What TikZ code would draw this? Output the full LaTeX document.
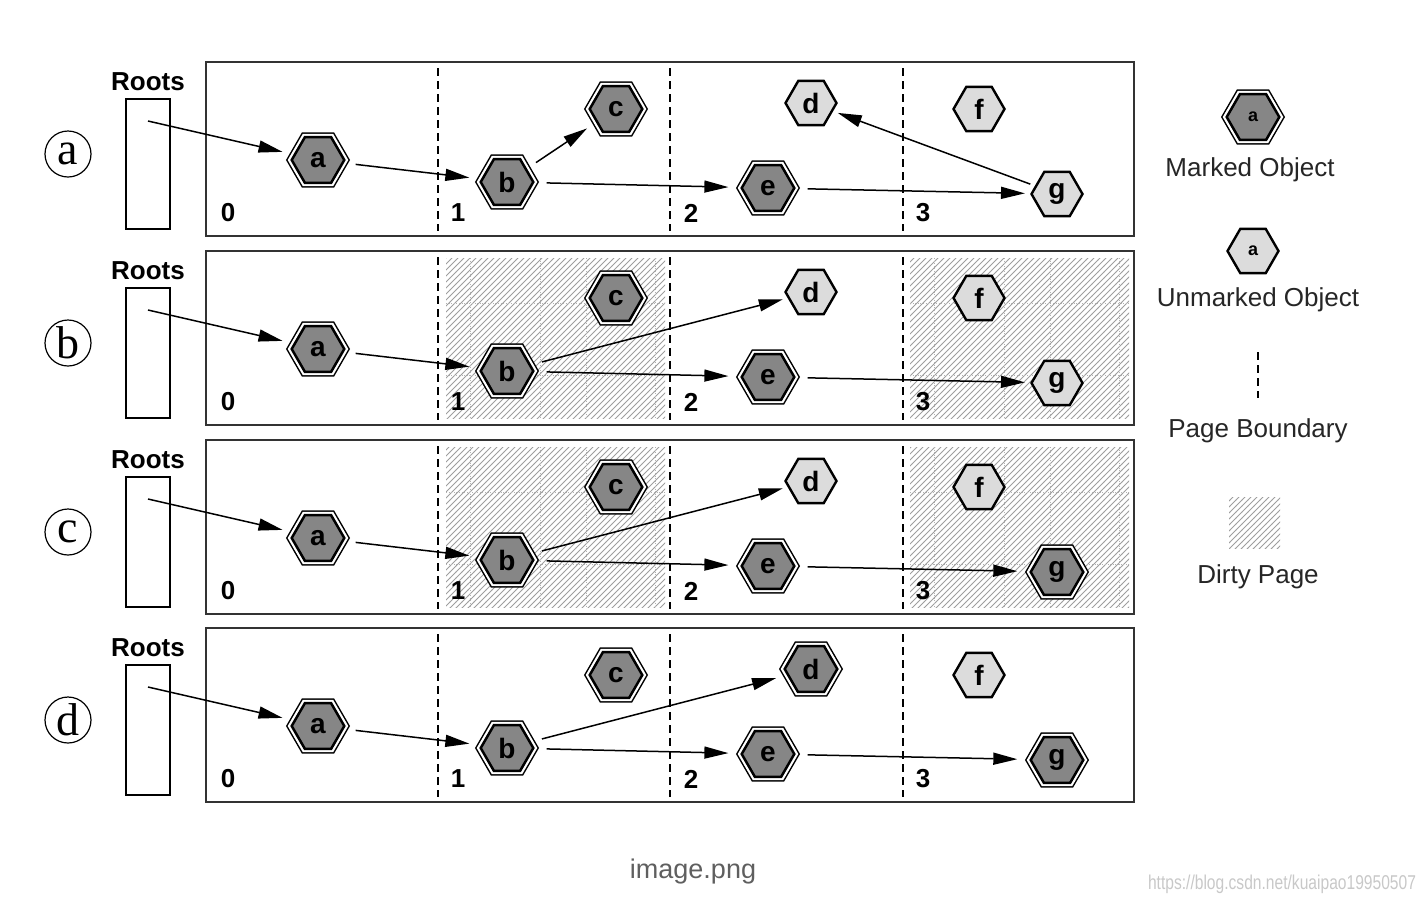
\documentclass[tikz,border=0pt]{standalone}
\usepackage{fontspec}
\setmainfont{Liberation Sans}
\newfontfamily\circfont{Liberation Serif}
\usetikzlibrary{arrows.meta,patterns,shapes.geometric,positioning}

\definecolor{markfill}{RGB}{134,134,134}
\definecolor{unmarkfill}{RGB}{220,220,220}
\definecolor{framegray}{RGB}{51,51,51}
\definecolor{captiongray}{RGB}{95,95,95}
\definecolor{urlgray}{RGB}{200,200,200}

\tikzset{
  hexa/.style={regular polygon, regular polygon sides=6, inner sep=0pt,
    font=\fontsize{14}{15}\selectfont\bfseries},
  marked/.style={hexa, minimum size=26.3pt, fill=markfill, draw=black, line width=1.25pt, outer sep=6pt,
    preaction={draw=black, line width=4.95pt},
    preaction={draw=white, line width=3.45pt}},
  unmarked/.style={hexa, minimum size=25.5pt, fill=unmarkfill, draw=black, line width=1.2pt, outer sep=3pt},
  ptr/.style={line width=0.75pt, -{Triangle[length=12pt,width=6pt]}},
  panel/.style={draw=framegray, line width=1pt},
  boundary/.style={line width=0.7pt, dash pattern=on 4pt off 2.5pt},
  dirty/.style={pattern=north east lines, pattern color=black!38},
  dirtygrid/.style={black!30, line width=0.3pt, densely dotted},
  pagenum/.style={font=\fontsize{13}{14}\selectfont\bfseries, inner sep=0pt},
  rootsbox/.style={draw, line width=0.75pt, minimum width=22pt, minimum height=65pt, inner sep=0pt},
  rootslabel/.style={font=\fontsize{13}{14}\selectfont\bfseries, inner sep=0pt},
  rowlabel/.style={draw, circle, line width=0.6pt, minimum size=23pt, inner sep=0pt,
    font=\circfont\fontsize{23}{24}\selectfont},
  legendtext/.style={font=\fontsize{13}{15}\selectfont, text=black!85, inner sep=0pt},
}

\begin{document}
\begin{tikzpicture}[x=0.5pt,y=-0.5pt]
\useasboundingbox (0,0) rectangle (1428,902);

% Dirty pages (rows b and c)
\foreach \dy in {189,378}{
  \foreach \px in {446,910}{
    \path[dirty] (\px,{69+\dy}) rectangle ({\px+219},{229+\dy});
    \foreach \gx in {24,94,140,209}
      \draw[dirtygrid] ({\px+\gx},{69+\dy}) -- ({\px+\gx},{229+\dy});
    \foreach \gy in {114,186}
      \draw[dirtygrid] (\px,{\gy+\dy}) -- ({\px+219},{\gy+\dy});
  }
}

% Row frames, roots and page boundaries
\foreach \r/\dy/\lbl in {1/0/a,2/189/b,3/378/c,4/566/d}{
  \draw[panel] (206,{62+\dy}) rectangle (1134,{236+\dy});
  \foreach \bx in {438,670,903}
    \draw[boundary] (\bx,{68+\dy}) -- (\bx,{231+\dy});
  \foreach \n/\nx in {0/228,1/458,2/691,3/923}
    \node[pagenum] (p\n-\r) at (\nx,{213+\dy}) {\n};
  \node[rootsbox] (roots\r) at (148,{164+\dy}) {};
  \node[rootslabel] (rootslbl\r) at (148,{82+\dy}) {Roots};
  \node[rowlabel] (row\r) at (68,{154+\dy}) {\lbl};
  \coordinate (rs\r) at (148,{121+\dy});
}

% Objects
\foreach \r/\dy/\sa/\sb/\sc/\sd/\se/\sf/\sg in {
    1/0/marked/marked/marked/unmarked/marked/unmarked/unmarked,
    2/189/marked/marked/marked/unmarked/marked/unmarked/unmarked,
    3/378/marked/marked/marked/unmarked/marked/unmarked/marked,
    4/566/marked/marked/marked/marked/marked/unmarked/marked}{
  \node[\sa] (a\r) at (318,{160+\dy}) {a};
  \node[\sb] (b\r) at (507,{182+\dy}) {b};
  \node[\sc] (c\r) at (616,{109+\dy}) {c};
  \node[\sd] (d\r) at (811,{103+\dy}) {d};
  \node[\se] (e\r) at (768,{188+\dy}) {e};
  \node[\sf] (f\r) at (979,{109+\dy}) {f};
  \node[\sg] (g\r) at (1057,{194+\dy}) {g};
  \draw[ptr] (rs\r) -- (a\r);
  \draw[ptr] (a\r) -- (b\r);
  \draw[ptr] (b\r) -- (e\r);
  \draw[ptr] (e\r) -- (g\r);
}
\draw[ptr] (b1) -- (c1);
\draw[ptr] (g1) -- (d1);
\foreach \r in {2,3,4}
  \draw[ptr] (b\r) -- (d\r);

% Legend
\node[marked, font=\fontsize{9}{10}\selectfont\bfseries] (legmarked) at (1253,117) {a};
\node[legendtext] (legmarkedtxt) at (1250,170) {Marked Object};
\node[unmarked, font=\fontsize{9}{10}\selectfont\bfseries] (legunmarked) at (1253,251) {a};
\node[legendtext] (legunmarkedtxt) at (1258,300) {Unmarked Object};
\draw[boundary] (1258,352) -- (1258,398);
\node[legendtext] (legboundarytxt) at (1258,431) {Page Boundary};
\path[dirty] (1229,497) rectangle (1280,548);
\node[legendtext] (legdirtytxt) at (1258,577) {Dirty Page};

% Caption
\node[font=\fontsize{13.5}{15}\selectfont, text=captiongray, inner sep=0pt] (caption) at (693,871) {image.png};
\node[font=\fontsize{10}{11}\selectfont, text=urlgray, inner sep=0pt] (url) at (1282,884)
  {\scalebox{0.78}[1]{https://blog.csdn.net/kuaipao19950507}};
\end{tikzpicture}
\end{document}
